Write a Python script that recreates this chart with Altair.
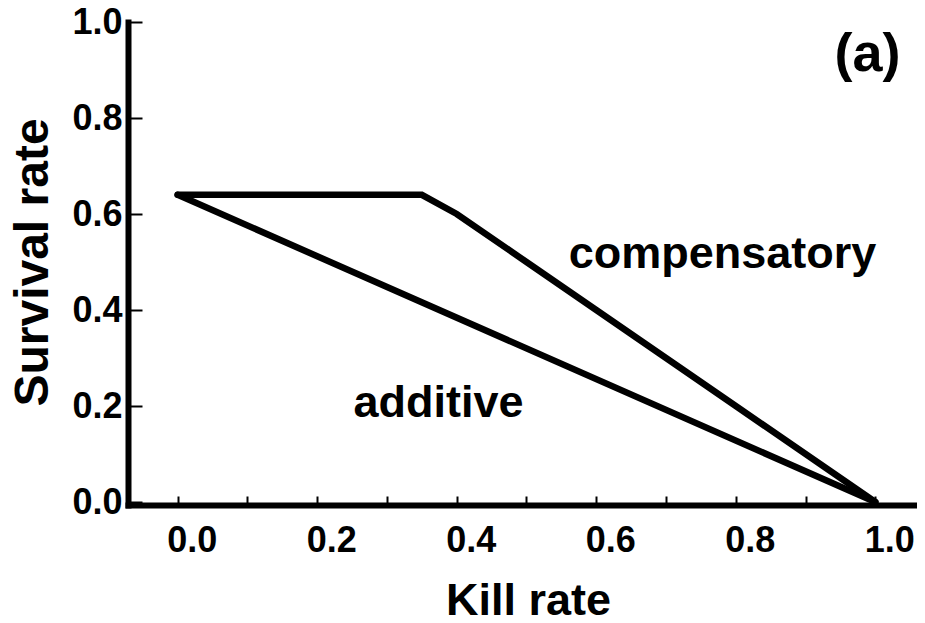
import altair as alt
import pandas as pd

# ---- data ----
comp_x = [0.0, 0.35, 0.40, 0.50, 0.60, 0.70, 0.75, 0.80, 1.0]
comp_y = [0.64, 0.64, 0.60, 0.50, 0.40, 0.30, 0.25, 0.20, 0.0]
add_x = [0.0, 1.0]
add_y = [0.64, 0.0]

x_tick_values = [0.0, 0.1, 0.2, 0.3, 0.4, 0.5, 0.6, 0.7, 0.8, 0.9, 1.0]
x_label_values = [0.0, 0.2, 0.4, 0.6, 0.8, 1.0]
y_tick_values = [0.0, 0.2, 0.4, 0.6, 0.8, 1.0]

note_text = ["compensatory", "additive", "(a)"]
note_x = [0.781, 0.374, 0.989]
note_y = [0.4875, 0.178, 0.898]
note_size = [45, 45, 54]

X_DOMAIN = [-0.0712, 1.0598]
Y_DOMAIN = [-0.00625, 1.0]

FONT = "Liberation Sans"
W, H = 789, 483

lines_df = pd.DataFrame(
    {"x": comp_x + add_x,
     "y": comp_y + add_y,
     "series": ["compensatory"] * len(comp_x) + ["additive"] * len(add_x)}
)
notes_df = pd.DataFrame({"text": note_text, "x": note_x, "y": note_y, "size": note_size})

xscale = alt.Scale(domain=X_DOMAIN, nice=False, zero=False)
yscale = alt.Scale(domain=Y_DOMAIN, nice=False, zero=False)

x_main_axis = alt.Axis(
    orient="bottom", values=x_label_values, format=".1f", ticks=False, tickSize=0,
    grid=False, domainColor="black", domainWidth=6, domainCap="square",
    labelFont=FONT, labelFontWeight="bold", labelFontSize=36, labelColor="black",
    labelPadding=46, labelBaseline="alphabetic", labelOffset=14, labelFlush=False,
    title="Kill rate", titleFont=FONT, titleFontWeight="bold", titleFontSize=45,
    titleColor="black", titleBaseline="alphabetic", titleAlign="center",
    titleX=400, titleY=109,
)
y_main_axis = alt.Axis(
    orient="left", values=y_tick_values, format=".1f", ticks=False, tickSize=0,
    grid=False, domainColor="black", domainWidth=6, domainCap="square",
    labelFont=FONT, labelFontWeight="bold", labelFontSize=36, labelColor="black",
    labelPadding=6, labelBaseline="middle", labelFlush=False,
    title="Survival rate", titleFont=FONT, titleFontWeight="bold", titleFontSize=48,
    titleColor="black", titleBaseline="alphabetic", titleAlign="center",
    titleAngle=270, titleX=-81, titleY=240,
)

lines = alt.Chart(lines_df).mark_line(
    color="black", strokeWidth=6.5, strokeCap="round"
).encode(
    x=alt.X("x:Q", scale=xscale, axis=x_main_axis),
    y=alt.Y("y:Q", scale=yscale, axis=y_main_axis),
    detail="series:N",
)

x_tick_axis = alt.Axis(
    orient="top", offset=-H, values=x_tick_values, labels=False, domain=False,
    grid=False, ticks=True, tickSize=9, tickWidth=2, tickColor="black", title=None,
)
y_tick_axis = alt.Axis(
    orient="right", offset=-W, values=y_tick_values, labels=False, domain=False,
    grid=False, ticks=True, tickSize=14, tickWidth=2, tickColor="black", title=None,
)

notes = alt.Chart(notes_df).mark_text(
    font=FONT, fontWeight="bold", color="black", align="center", baseline="alphabetic"
).encode(
    x=alt.X("x:Q", scale=xscale, axis=x_tick_axis),
    y=alt.Y("y:Q", scale=yscale, axis=y_tick_axis),
    text="text:N",
    size=alt.Size("size:Q", scale=None, legend=None),
)

chart = alt.layer(lines, notes).resolve_axis(
    x="independent", y="independent"
).properties(
    width=W, height=H, autosize="none",
    padding={"left": 120, "top": 14, "right": 0, "bottom": 110},
).configure_view(stroke=None)

chart.save("out.html", embed_options={"renderer": "svg", "actions": False})
